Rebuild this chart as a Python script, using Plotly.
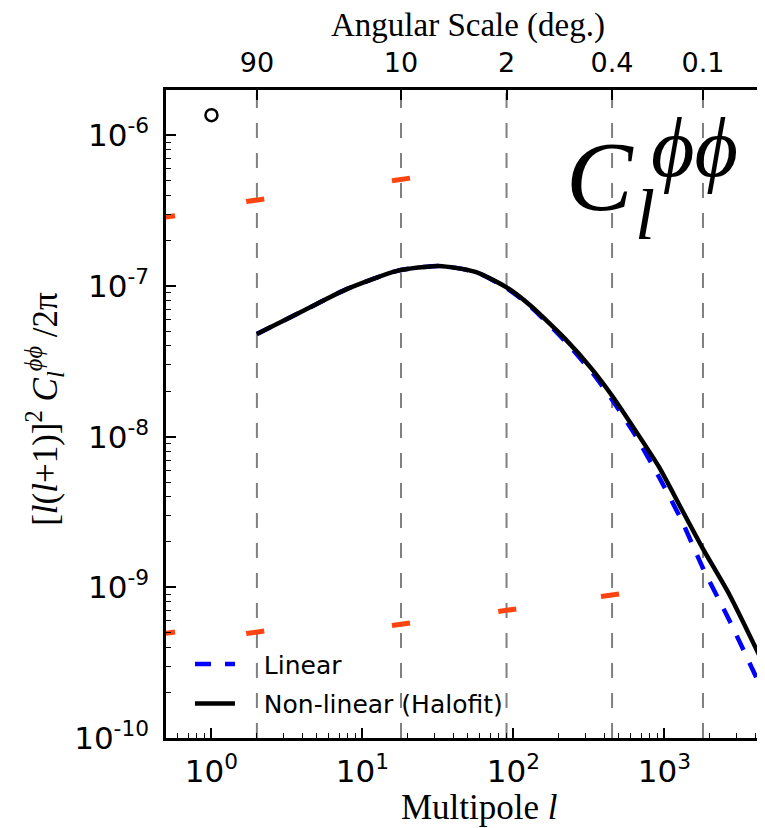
import plotly.graph_objects as go

# ---------------- data ----------------
ell = [2, 4, 8, 17, 32, 56, 90, 130, 220, 330, 450, 650, 920, 1300, 1800, 2700, 4600]
cl_nonlinear = [4.8e-8, 6.8e-8, 9.6e-8, 1.26e-7, 1.36e-7, 1.24e-7, 9.8e-8, 7.4e-8,
                4.46e-8, 2.82e-8, 1.87e-8, 1.08e-8, 6.3e-9, 3.3e-9, 1.8e-9, 8.9e-10, 3.0e-10]
cl_linear = [4.8e-8, 6.8e-8, 9.6e-8, 1.26e-7, 1.36e-7, 1.24e-7, 9.7e-8, 7.3e-8,
             4.3e-8, 2.69e-8, 1.76e-8, 1.0e-8, 5.4e-9, 2.78e-9, 1.34e-9, 6.0e-10, 1.93e-10]

orange_l_upper = [0.5, 1.95, 18]
orange_upper = [2.87e-7, 3.71e-7, 5.1e-7]
orange_l_lower = [0.5, 1.95, 18, 91, 436]
orange_lower = [4.95e-10, 5.03e-10, 5.69e-10, 7.05e-10, 8.85e-10]

circle_l = [1.0]
circle_val = [1.36e-6]

angular_l = [2, 18, 90, 450, 1800]
angular_labels = ["90", "10", "2", "0.4", "0.1"]

x_major = [1, 10, 100, 1000]
x_major_text = ["10<sup>0</sup>", "10<sup>1</sup>", "10<sup>2</sup>", "10<sup>3</sup>"]
y_major = [1e-10, 1e-9, 1e-8, 1e-7, 1e-6]
y_major_text = ["10<sup>-10</sup>", "10<sup>-9</sup>", "10<sup>-8</sup>", "10<sup>-7</sup>", "10<sup>-6</sup>"]

x_range = [-0.301, 3.666]
y_range = [-10, -5.699]

x_minor = [k * 10.0 ** n for n in range(-1, 4) for k in range(2, 10)]
y_minor = [k * 10.0 ** n for n in range(-10, -5) for k in range(2, 10)]

SANS = "DejaVu Sans"
SERIF = "Liberation Serif"
PAD = "\u00a0\u00a0\u00a0"

fig = go.Figure()

fig.add_trace(go.Scatter(
    x=ell, y=cl_linear, mode="lines", name=PAD + "Linear",
    line=dict(color="#0000ff", width=4.5, dash="16px,14px", shape="spline", smoothing=0.6),
    legendgroup="a",
))
fig.add_trace(go.Scatter(
    x=ell, y=cl_nonlinear, mode="lines", name=PAD + "Non-linear (Halofit)",
    line=dict(color="black", width=4.5, shape="spline", smoothing=0.6),
    legendgroup="b",
))
for xs, ys in ((orange_l_upper, orange_upper), (orange_l_lower, orange_lower)):
    fig.add_trace(go.Scatter(
        x=xs, y=ys, mode="markers", showlegend=False,
        marker=dict(symbol="line-ew", size=13, angle=-8,
                    line=dict(color="#ff4411", width=5)),
    ))
fig.add_trace(go.Scatter(
    x=circle_l, y=circle_val, mode="markers", showlegend=False,
    marker=dict(symbol="circle-open", size=12, color="black", line=dict(color="black", width=2.5)),
))
# invisible trace to activate the top axis
fig.add_trace(go.Scatter(x=angular_l, y=[1e-8] * len(angular_l), xaxis="x2", mode="markers",
                         marker=dict(opacity=0), showlegend=False, hoverinfo="skip"))

for v in angular_l:
    fig.add_shape(type="line", xref="x", yref="paper", x0=v, x1=v, y0=0, y1=1,
                  line=dict(color="#808080", width=2, dash="15px,15px"), layer="below")

# the page body adds an 8px offset, so the figure is 8px smaller and margins compensate
fig.update_layout(
    width=757, height=820,
    margin=dict(l=158, r=0, t=82, b=90),
    paper_bgcolor="white", plot_bgcolor="white",
    showlegend=True,
    legend=dict(x=0.04, y=0.018, xanchor="left", yanchor="bottom",
                font=dict(family=SANS, size=25, color="black"),
                bgcolor="rgba(0,0,0,0)", itemwidth=40, tracegroupgap=4,
                traceorder="grouped"),
    xaxis=dict(type="log", range=x_range, showgrid=False, zeroline=False, automargin=False,
               showline=True, linecolor="black", linewidth=2.5, mirror=False,
               ticks="inside", ticklen=10, tickwidth=1.5, tickcolor="black",
               tickvals=x_major, ticktext=x_major_text,
               tickfont=dict(family=SANS, size=31, color="black"),
               ticklabelstandoff=4,
               minor=dict(tickvals=x_minor, ticks="inside", ticklen=5, tickwidth=1.2, tickcolor="black",
                          showgrid=False)),
    xaxis2=dict(type="log", range=x_range, overlaying="x", side="top", showgrid=False,
                zeroline=False, showline=True, linecolor="black", linewidth=2.5, automargin=False,
                ticks="inside", ticklen=10, tickwidth=1.5, tickcolor="black",
                tickvals=angular_l, ticktext=angular_labels,
                tickfont=dict(family=SANS, size=27, color="black"),
                ticklabelstandoff=4),
    yaxis=dict(type="log", range=y_range, showgrid=False, zeroline=False, automargin=False,
               showline=True, linecolor="black", linewidth=2.5,
               ticks="inside", ticklen=10, tickwidth=1.5, tickcolor="black",
               tickvals=y_major, ticktext=y_major_text,
               tickfont=dict(family=SANS, size=31, color="black"),
               ticklabelstandoff=8,
               minor=dict(tickvals=y_minor, ticks="inside", ticklen=5, tickwidth=1.2, tickcolor="black",
                          showgrid=False)),
)

ann = []
ann.append(dict(text="Multipole <i>l</i>", x=0.524, y=-0.107, xref="paper", yref="paper",
                showarrow=False, xanchor="center", yanchor="middle",
                font=dict(family=SERIF, size=35, color="black")))
ann.append(dict(text="Angular Scale (deg.)", x=0.504, y=1.099, xref="paper", yref="paper",
                showarrow=False, xanchor="center", yanchor="middle",
                font=dict(family=SERIF, size=33, color="black")))
ann.append(dict(text="[<i>l</i>(<i>l</i>+1)]<sup>2</sup> <i>C</i><sub><i>l</i></sub><sup><i>ϕϕ</i></sup> /2π",
                x=-0.202, y=0.508, xref="paper", yref="paper", textangle=-90,
                showarrow=False, xanchor="center", yanchor="middle",
                font=dict(family=SERIF, size=35, color="black")))
ann.append(dict(text="<i>C</i>", x=0.724, y=0.866, xref="paper", yref="paper",
                showarrow=False, xanchor="center", yanchor="middle",
                font=dict(family=SERIF, size=100, color="black")))
ann.append(dict(text="<i>ϕϕ</i>", x=0.883, y=0.912, xref="paper", yref="paper",
                showarrow=False, xanchor="center", yanchor="middle",
                font=dict(family=SERIF, size=84, color="black")))
ann.append(dict(text="<i>l</i>", x=0.8005, y=0.807, xref="paper", yref="paper",
                showarrow=False, xanchor="center", yanchor="middle",
                font=dict(family=SERIF, size=72, color="black")))
fig.update_layout(annotations=ann)

fig.write_html("out.html")
